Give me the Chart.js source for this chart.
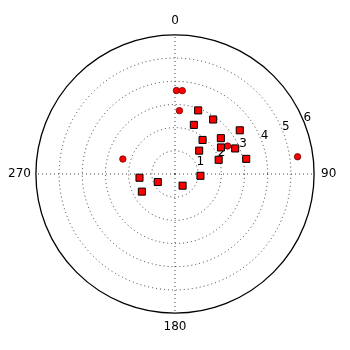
<!DOCTYPE html>
<html>
<head>
<meta charset="utf-8">
<script src="https://cdn.jsdelivr.net/npm/chart.js@4/dist/chart.umd.min.js"></script>
<style>
  html, body { margin: 0; padding: 0; background: #fff; }
  #wrap { width: 350px; height: 350px; position: relative; }
</style>
</head>
<body>
<div id="wrap"><canvas id="polar"></canvas></div>
<script>
// polar scatter, theta in degrees (0 = north, clockwise), r in data units
const squareTheta = [20, 35, 21, 56, 39, 52, 60, 67, 46, 78, 72, 94, 264, 245, 147, 242];
const squareR     = [2.92, 2.87, 2.27, 3.37, 1.89, 2.51, 2.29, 2.82, 1.45, 3.14, 1.98, 1.10, 1.54, 0.82, 0.60, 1.62];
const circleTheta = [1, 5, 4, 286, 62, 82];
const circleR     = [3.60, 3.61, 2.74, 2.34, 2.57, 5.34];

const angleTicks = ['0', '90', '180', '270'];
const rTicks = [1, 2, 3, 4, 5, 6];
const rLabelAngle = 67.5;

// one category per degree so the radar scale acts as a full circle
const degrees = Array.from({ length: 360 }, (_, i) => String(i));

function toSlots(thetas, rs) {
  const out = new Array(degrees.length).fill(null);
  thetas.forEach((t, i) => { out[Math.round(t) % 360] = rs[i]; });
  return out;
}

const isMajor = (i) => angleTicks.includes(String(i));
const dotted = [1, 3];

// radial tick labels, drawn under the markers along the 67.5 deg spoke
const rLabels = {
  id: 'rLabels',
  beforeDatasetsDraw(chart) {
    const s = chart.scales.r;
    const ctx = chart.ctx;
    ctx.save();
    ctx.font = '12px "DejaVu Sans"';
    ctx.fillStyle = '#000';
    ctx.textAlign = 'left';
    ctx.textBaseline = 'alphabetic';
    rTicks.forEach((v) => {
      const p = s.getPointPosition(rLabelAngle, s.getDistanceFromCenterForValue(v));
      ctx.fillText(String(v), p.x, p.y);
    });
    ctx.restore();
  }
};

new Chart(document.getElementById('polar'), {
  type: 'radar',
  data: {
    labels: degrees,
    datasets: [
      {
        label: 'squares',
        data: toSlots(squareTheta, squareR),
        showLine: false,
        fill: false,
        pointStyle: 'rect',
        pointRadius: 5,
        pointBackgroundColor: '#ff0000',
        pointBorderColor: '#000',
        pointBorderWidth: 1,
      },
      {
        label: 'circles',
        data: toSlots(circleTheta, circleR),
        showLine: false,
        fill: false,
        pointStyle: 'circle',
        pointRadius: 3.2,
        pointBackgroundColor: '#ff0000',
        pointBorderColor: '#600',
        pointBorderWidth: 0.8,
      },
    ],
  },
  options: {
    responsive: true,
    maintainAspectRatio: false,
    animation: false,
    layout: { padding: { left: 5, right: 10, top: 7, bottom: 8 } },
    plugins: { legend: { display: false }, tooltip: { enabled: false } },
    scales: {
      r: {
        min: 0,
        max: 6,
        ticks: { stepSize: 1, display: false },
        grid: {
          circular: true,
          color: (c) => c.index === 6 ? '#000' : 'rgba(0,0,0,0.75)',
          lineWidth: (c) => c.index === 6 ? 1.3 : 1,
        },
        border: { dash: (c) => c.index === 6 ? [] : dotted },
        angleLines: {
          color: (c) => isMajor(c.index) ? 'rgba(0,0,0,0.75)' : 'rgba(0,0,0,0)',
          lineWidth: (c) => isMajor(c.index) ? 1 : 0,
          borderDash: dotted,
        },
        pointLabels: {
          callback: (label, i) => isMajor(i) ? label : '',
          padding: (c) => c.index === 270 ? 5 : 7,
          color: '#000',
          font: { family: '"DejaVu Sans"', size: 12 },
        },
      },
    },
  },
  plugins: [rLabels],
});
</script>
</body>
</html>
